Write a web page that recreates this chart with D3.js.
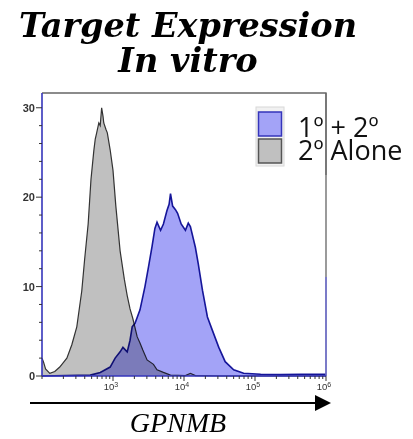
<!DOCTYPE html>
<meta charset="utf-8">
<style>
body { margin: 0; background: #fff; overflow: hidden; }
.title { font-family: "DejaVu Serif", serif; font-weight: bold; font-style: italic; text-anchor: middle; }
.tick-label { font-family: "Liberation Sans", Arial, sans-serif; fill: #333; }
.legend-text { font-family: "Open Sans", "Liberation Sans", sans-serif; fill: #111; }
.xlabel { font-family: "Liberation Serif", serif; font-style: italic; text-anchor: middle; }
</style>
<svg width="413" height="439"></svg>
<script src="https://cdn.jsdelivr.net/npm/d3@7/dist/d3.min.js"></script>
<script>

// 2º alone (grey) histogram: log10(intensity) and count
const aloneLog = [2.00, 2.02, 2.05, 2.11, 2.18, 2.25, 2.35, 2.42, 2.49, 2.56, 2.60, 2.65, 2.69, 2.73, 2.75, 2.77, 2.80, 2.82, 2.84, 2.86, 2.87, 2.90, 2.92, 2.96, 3.00, 3.04, 3.10, 3.16, 3.20, 3.24, 3.28, 3.34, 3.38, 3.42, 3.48, 3.57, 3.62, 3.71, 3.81, 4.02, 4.09, 4.16, 4.51, 6.00];
const aloneCount = [2.0, 1.6, 0.8, 0.3, 0.5, 1.0, 2.0, 3.5, 5.5, 9.5, 13, 17, 22, 25.2, 26.5, 27.2, 28.3, 28, 30, 29, 28.3, 27.6, 27.2, 25.3, 23, 19, 14, 10.8, 9, 7.5, 6.4, 4.4, 3.7, 2.9, 1.8, 1.3, 0.7, 0.4, 0.1, 0.05, 0.3, 0.05, 0, 0];

// 1º + 2º (blue) histogram
const stainLog = [2.00, 2.68, 2.82, 2.96, 3.03, 3.10, 3.14, 3.20, 3.24, 3.27, 3.31, 3.38, 3.45, 3.50, 3.55, 3.59, 3.62, 3.67, 3.71, 3.76, 3.79, 3.81, 3.84, 3.88, 3.91, 3.96, 4.02, 4.06, 4.09, 4.16, 4.20, 4.26, 4.33, 4.40, 4.49, 4.58, 4.70, 4.84, 5.08, 5.36, 5.65, 6.00];
const stainCount = [0, 0.1, 0.4, 1.0, 2.0, 2.7, 3.2, 2.7, 4.0, 5.5, 5.9, 7.4, 10, 12.2, 14.5, 16.5, 17.2, 16.3, 17, 18.5, 19.2, 20.4, 19, 18.6, 18.2, 17, 16.3, 17.1, 16.7, 14.4, 12.6, 9.6, 6.6, 5.1, 3.2, 1.6, 0.7, 0.3, 0.2, 0.15, 0.2, 0.2];

const yTicks = [0, 10, 20, 30];
const xTicks = [1e3, 1e4, 1e5, 1e6];
const xExps = ["3", "4", "5", "6"];
const legendLabels = ["1º + 2º", "2º Alone"];
const titleLines = ["Target Expression", "In vitro"];
const axisName = "GPNMB";

const blueFill = "#a3a3f7", blueLine = "#1a1a9c";
const greyFill = "#c0c0c0", greyLine = "#333";
const axisBlue = "#3535bb";

const plotL = 42, plotR = 326, plotT = 93, plotB = 376;

const svg = d3.select("svg");

const x = d3.scaleLog().domain([100, 1e6]).range([plotL, plotR]);
const y = d3.scaleLinear().domain([0, 31.65]).range([plotB, plotT]);

// title (one text, two lines)
svg.append("text")
  .attr("class", "title")
  .attr("font-size", 33.5)
  .selectAll("tspan")
  .data(titleLines)
  .enter().append("tspan")
  .attr("x", 188)
  .attr("y", (d, i) => 37 + i * 35)
  .text(d => d);

// histograms
function series(logs, counts) {
  return logs.map((l, i) => [Math.pow(10, l), counts[i]]);
}
const area = d3.area()
  .x(d => x(d[0]))
  .y0(y(0))
  .y1(d => y(d[1]));
const line = d3.line()
  .x(d => x(d[0]))
  .y(d => y(d[1]));

const alone = series(aloneLog, aloneCount);
const stain = series(stainLog, stainCount);

const plot = svg.append("g");
plot.append("path").attr("d", area(alone)).attr("fill", greyFill);
plot.append("path").attr("d", line(alone)).attr("fill", "none")
  .attr("stroke", greyLine).attr("stroke-width", 1.2);
plot.append("path").attr("d", area(stain)).attr("fill", blueFill)
  .style("mix-blend-mode", "multiply");
plot.append("path").attr("d", line(stain)).attr("fill", "none")
  .attr("stroke", blueLine).attr("stroke-width", 1.6)
  .style("mix-blend-mode", "multiply");

// frame (top + right)
svg.append("path")
  .attr("d", `M${plotL},${plotT}H${plotR}V${plotB}`)
  .attr("fill", "none").attr("stroke", "#666").attr("stroke-width", 1.3);
svg.append("line")
  .attr("x1", plotR).attr("x2", plotR).attr("y1", 277).attr("y2", plotB)
  .attr("stroke", "#6a6ae0").attr("stroke-width", 1.3);

// y axis
const yAxis = svg.append("g");
yAxis.append("line").attr("x1", plotL).attr("x2", plotL).attr("y1", plotT).attr("y2", plotB)
  .attr("stroke", axisBlue).attr("stroke-width", 1.6);
yAxis.selectAll(".minor")
  .data(d3.range(0, 32, 2))
  .enter().append("line")
  .attr("x1", d => plotL - (d % 10 === 0 ? 6 : 3))
  .attr("x2", plotL)
  .attr("y1", d => y(d)).attr("y2", d => y(d))
  .attr("stroke", "#333").attr("stroke-width", 1);
yAxis.selectAll(".tick-label")
  .data(yTicks)
  .enter().append("text")
  .attr("class", "tick-label")
  .attr("x", plotL - 7)
  .attr("y", d => y(d) + 4)
  .attr("text-anchor", "end")
  .attr("font-size", 11)
  .attr("font-weight", "bold")
  .text(d => d);

// x axis
const xAxis = svg.append("g");
xAxis.append("line").attr("x1", plotL).attr("x2", plotR).attr("y1", plotB).attr("y2", plotB)
  .attr("stroke", axisBlue).attr("stroke-width", 1.6);
const minor = [];
for (let e = 2; e < 6; e++) for (let m = 1; m < 10; m++) minor.push(m * Math.pow(10, e));
minor.push(1e6);
xAxis.selectAll(".xminor")
  .data(minor)
  .enter().append("line")
  .attr("x1", d => x(d)).attr("x2", d => x(d))
  .attr("y1", plotB)
  .attr("y2", d => plotB + (xTicks.includes(d) ? 5 : 3))
  .attr("stroke", "#333").attr("stroke-width", 1);
const xl = xAxis.selectAll(".xlab")
  .data(xTicks)
  .enter().append("text")
  .attr("class", "tick-label")
  .attr("x", d => x(d) - 2)
  .attr("y", 390)
  .attr("text-anchor", "middle")
  .attr("font-size", 9.5);
xl.append("tspan").text("10");
xl.append("tspan").attr("dy", -3).attr("font-size", 7).text((d, i) => xExps[i]);

// arrow + axis name
svg.append("line").attr("x1", 30).attr("x2", 318).attr("y1", 403).attr("y2", 403)
  .attr("stroke", "#000").attr("stroke-width", 1.8);
svg.append("path").attr("d", "M315,395L331,403L315,411Z").attr("fill", "#000");
svg.append("text").attr("class", "xlabel")
  .attr("x", 178).attr("y", 432).attr("font-size", 28)
  .text(axisName);

// legend
const legend = svg.append("g");
legend.append("rect").attr("x", 256).attr("y", 107).attr("width", 28).attr("height", 59)
  .attr("fill", "#f1f1f1").attr("stroke", "#d8d8d8");
legend.selectAll(".sw")
  .data([[blueFill, axisBlue], [greyFill, "#555"]])
  .enter().append("rect")
  .attr("x", 258.5).attr("y", (d, i) => 112 + i * 27)
  .attr("width", 23).attr("height", 24)
  .attr("fill", d => d[0]).attr("stroke", d => d[1]).attr("stroke-width", 1.5);
legend.append("text")
  .attr("class", "legend-text")
  .attr("font-size", 27)
  .selectAll("tspan")
  .data(legendLabels)
  .enter().append("tspan")
  .attr("x", 298)
  .attr("y", (d, i) => 137 + i * 23)
  .text(d => d);
// plot border passes over legend text
svg.append("line").attr("x1", plotR).attr("x2", plotR).attr("y1", plotT).attr("y2", 175)
  .attr("stroke", "#666").attr("stroke-width", 1.3);
</script>
